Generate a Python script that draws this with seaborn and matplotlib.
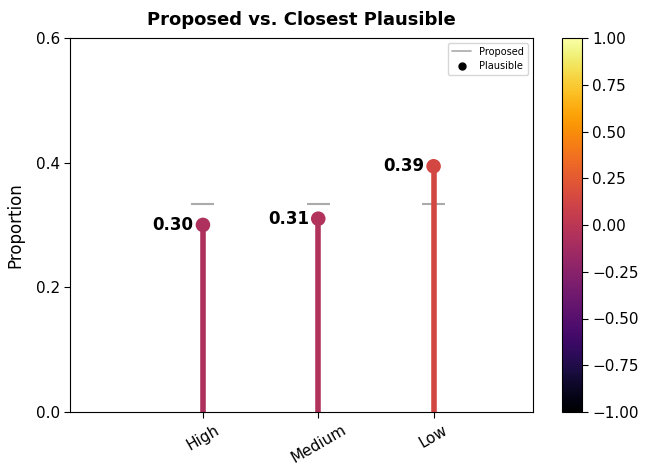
import numpy as np
import pandas as pd
import seaborn as sns
import matplotlib.pyplot as plt
from matplotlib.lines import Line2D

categories = ['High', 'Medium', 'Low']
plausible = [0.30, 0.31, 0.394]
proposed = [0.333, 0.333, 0.333]

sns.set_style("white")
plt.rcParams['font.family'] = ['DejaVu Sans']
plt.rcParams['text.color'] = 'black'
plt.rcParams['axes.labelcolor'] = 'black'
plt.rcParams['xtick.color'] = 'black'
plt.rcParams['ytick.color'] = 'black'

df = pd.DataFrame({'cat': categories, 'plausible': plausible, 'proposed': proposed})
df['x'] = np.arange(len(df))

fig, ax = plt.subplots(figsize=(6.45, 4.72), dpi=100)
cmap = plt.get_cmap('inferno')
norm = plt.Normalize(-1, 1)
# colour by the gap between plausible and proposed
gap = (df['plausible'] - df['proposed']) * 2.2
colors = [cmap(norm(d)) for d in gap]

for i, row in df.iterrows():
    ax.vlines(row['x'], 0, row['plausible'], color=colors[i], linewidth=4, zorder=2)
    ax.hlines(row['proposed'], row['x'] - 0.1, row['x'] + 0.1, color='#aaaaaa', linewidth=1.5, zorder=1)
    ax.text(row['x'] - 0.08, row['plausible'], f"{row['plausible']:.2f}", ha='right', va='center',
            fontsize=12, fontweight='bold')
sns.scatterplot(data=df, x='x', y='plausible', hue='cat', palette=colors, s=110,
                edgecolor='none', legend=False, ax=ax, zorder=3)

ax.set_xlim(-1.15, 2.86)
ax.set_ylim(0, 0.6)
ax.set_yticks([0, 0.2, 0.4, 0.6])
ax.set_xticks(df['x'])
ax.set_xticklabels(categories, rotation=30, fontsize=11)
ax.tick_params(axis='y', labelsize=11)
ax.tick_params(axis='both', direction='out', length=4, bottom=True, left=True)
ax.set_xlabel('')
ax.set_ylabel('Proportion', fontsize=12, labelpad=8)
ax.set_title('Proposed vs. Closest Plausible', fontsize=13, fontweight='bold', pad=9)
for s in ax.spines.values():
    s.set_color('black')

handles = [Line2D([0], [0], color='#aaaaaa', lw=1.2, label='Proposed'),
           Line2D([0], [0], marker='o', color='black', lw=0, markersize=5, label='Plausible')]
ax.legend(handles=handles, loc='upper right', fontsize=7)

sm = plt.cm.ScalarMappable(cmap=cmap, norm=norm)
cax = fig.add_axes([562 / 645, 60 / 472, 20 / 645, 374 / 472])
cbar = fig.colorbar(sm, cax=cax)
cbar.ax.tick_params(labelsize=11, direction='out', length=4, right=True)
cbar.set_ticks(np.arange(-1, 1.01, 0.25))
cbar.outline.set_edgecolor('black')

fig.subplots_adjust(left=0.109, right=0.826, top=0.92, bottom=0.127)
fig.savefig('out.png', dpi=100)
